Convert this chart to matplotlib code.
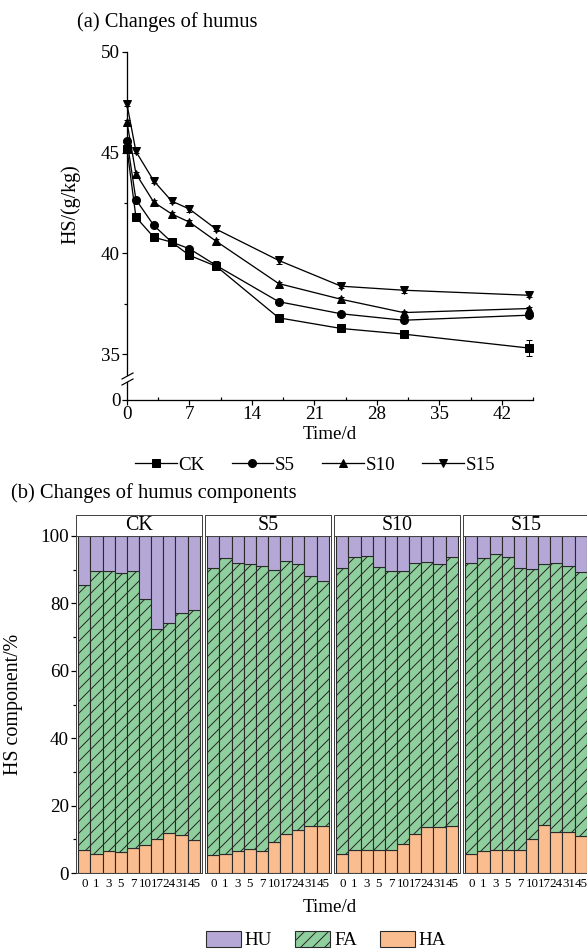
import numpy as np
import matplotlib
matplotlib.use("Agg")
import matplotlib.pyplot as plt
from matplotlib.lines import Line2D
from matplotlib.patches import Patch, Rectangle

# ---------------- data ----------------
days = [0, 1, 3, 5, 7, 10, 17, 24, 31, 45]
hs_ck = [45.2, 41.8, 40.8, 40.56, 39.9, 39.36, 36.8, 36.27, 35.99, 35.3]
hs_s5 = [45.6, 42.67, 41.39, 40.56, 40.23, 39.4, 37.6, 37.0, 36.68, 36.93]
hs_s10 = [46.5, 43.96, 42.54, 41.96, 41.55, 40.6, 38.5, 37.72, 37.06, 37.26]
hs_s15 = [47.4, 45.06, 43.6, 42.6, 42.2, 41.2, 39.65, 38.37, 38.17, 37.92]
err_ck = [0.1, 0.1, 0.1, 0.1, 0.1, 0.1, 0.1, 0.1, 0.1, 0.4]
err_s5 = [0.1, 0.1, 0.1, 0.1, 0.1, 0.2, 0.1, 0.1, 0.1, 0.1]
err_s10 = [0.1, 0.1, 0.1, 0.1, 0.1, 0.1, 0.1, 0.1, 0.1, 0.1]
err_s15 = [0.1, 0.1, 0.1, 0.1, 0.15, 0.1, 0.2, 0.1, 0.15, 0.1]

treatments = ["CK", "S5", "S10", "S15"]
# top of FA (HA + FA), %
fa_top = {
    "CK": [85.4, 89.7, 89.7, 89.1, 89.6, 81.3, 72.3, 74.2, 77.2, 78.1],
    "S5": [90.5, 93.6, 92.1, 91.6, 91.1, 89.9, 92.6, 91.6, 88.2, 86.7],
    "S10": [90.6, 93.8, 94.1, 90.9, 89.6, 89.7, 92.1, 92.4, 91.6, 93.9],
    "S15": [92.1, 93.4, 94.6, 93.9, 90.5, 90.2, 91.8, 92.1, 91.1, 89.4],
}
ha_pct = {
    "CK": [6.7, 5.6, 6.6, 6.3, 7.3, 8.4, 10.2, 12.0, 11.4, 9.8],
    "S5": [5.4, 5.5, 6.4, 7.2, 6.4, 9.3, 11.7, 12.7, 13.8, 13.8],
    "S10": [5.6, 6.7, 6.7, 6.7, 6.9, 8.6, 11.6, 13.6, 13.6, 13.8],
    "S15": [5.6, 6.4, 6.7, 6.7, 6.7, 10.1, 14.1, 12.2, 12.2, 11.1],
}
day_labels = ["0", "1", "3", "5", "7", "10", "17", "24", "31", "45"]

# ---------------- style ----------------
plt.rcParams['font.family'] = ['Liberation Serif', 'DejaVu Serif']
plt.rcParams['hatch.linewidth'] = 1.0
plt.rcParams['hatch.color'] = '#222222'

W, H = 587, 950
DPI = 72
fig = plt.figure(figsize=(W / DPI, H / DPI), dpi=DPI)

FS = 19


def rect(l, t, r, b):
    return [l / W, 1 - b / H, (r - l) / W, (b - t) / H]


def fx(x):
    return x / W


def fy(y):
    return 1 - y / H


# ---------------- panel (a) ----------------
ax_up = fig.add_axes(rect(127, 52, 533, 375))
ax_lo = fig.add_axes(rect(127, 382, 533, 400))

series = [(hs_ck, err_ck, 's', 'CK'), (hs_s5, err_s5, 'o', 'S5'),
          (hs_s10, err_s10, '^', 'S10'), (hs_s15, err_s15, 'v', 'S15')]
for vals, err, mk, lab in series:
    ax_up.errorbar(days, vals, yerr=err, color='black', marker=mk, ms=8,
                   lw=1.3, capsize=3, elinewidth=1, label=lab, clip_on=False,
                   zorder=3)

ax_up.set_xlim(0, 45.5)
ax_up.set_ylim(33.96, 50)
ax_up.set_yticks([35, 40, 45, 50])
ax_up.set_yticks([37.5, 42.5, 47.5], minor=True)
ax_up.set_xticks([])
for s in ['top', 'right', 'bottom']:
    ax_up.spines[s].set_visible(False)
ax_up.spines['left'].set_linewidth(1.3)
ax_up.tick_params(axis='y', which='major', length=5, width=1.2, labelsize=FS, pad=2)
ax_up.tick_params(axis='y', which='minor', length=3, width=1.2)
ax_up.patch.set_visible(False)
ax_up.set_ylabel("HS/(g/kg)", fontsize=FS + 1)
ax_up.yaxis.set_label_coords(-0.115, 0.53)

ax_lo.set_xlim(0, 45.5)
ax_lo.set_ylim(0, 1)
ax_lo.set_yticks([0])
ax_lo.set_xticks([0, 7, 14, 21, 28, 35, 42])
ax_lo.set_xticks([3.5, 10.5, 17.5, 24.5, 31.5, 38.5, 45.5], minor=True)
for s in ['top', 'right']:
    ax_lo.spines[s].set_visible(False)
ax_lo.spines['left'].set_linewidth(1.3)
ax_lo.spines['bottom'].set_linewidth(1.3)
ax_lo.tick_params(axis='both', which='major', length=5, width=1.2, labelsize=FS, pad=1)
ax_lo.tick_params(axis='x', which='minor', direction='in', length=3, width=1.2)
ax_lo.patch.set_visible(False)
ax_lo.set_xlabel("Time/d", fontsize=FS, labelpad=3)

# axis break marks
for yb in (376, 382):
    fig.add_artist(Line2D([fx(122), fx(133)], [fy(yb + 3), fy(yb - 3)],
                          color='black', lw=1.2, transform=fig.transFigure))

fig.text(fx(77), fy(22), "(a) Changes of humus", fontsize=FS + 1.5,
         va='center', ha='left')

handles_a = [Line2D([], [], color='black', marker=m, ms=8, lw=1.3) for _, _, m, _ in series]
fig.legend(handles_a, [s[3] for s in series], loc='center', ncol=4,
           bbox_to_anchor=(fx(315), fy(465)), frameon=False, fontsize=FS,
           handlelength=2.2, handletextpad=0.1, columnspacing=1.4)

# ---------------- panel (b) ----------------
fig.text(fx(11), fy(493), "(b) Changes of humus components", fontsize=FS + 1.5,
         va='center', ha='left')

col_hu = '#b5a8d6'
col_fa = '#8fcf9d'
col_ha = '#f9bd90'
edge = '#2a2a2a'

lefts = [76, 205, 334, 463]
pw = 126
x = np.arange(len(day_labels))
for i, (tr, l) in enumerate(zip(treatments, lefts)):
    ax = fig.add_axes(rect(l, 536, l + pw, 873))
    ha = np.array(ha_pct[tr])
    top = np.array(fa_top[tr])
    fa = top - ha
    hu = 100 - top
    ax.bar(x, ha, width=1.0, color=col_ha, edgecolor=edge, lw=1.1)
    ax.bar(x, fa, bottom=ha, width=1.0, color=col_fa, edgecolor=edge, lw=1.1,
           hatch='//')
    ax.bar(x, hu, bottom=top, width=1.0, color=col_hu, edgecolor=edge, lw=1.1)
    ax.set_xlim(-0.68, 9.68)
    ax.set_ylim(0, 100)
    ax.set_xticks(x)
    ax.set_xticklabels(day_labels, fontsize=13)
    ax.tick_params(axis='x', length=0, pad=5)
    for s in ax.spines.values():
        s.set_linewidth(1.0)
        s.set_color('#444444')
    if i == 0:
        ax.set_yticks([0, 20, 40, 60, 80, 100])
        ax.set_yticks([10, 30, 50, 70, 90], minor=True)
        ax.tick_params(axis='y', which='major', length=5, width=1.2,
                       labelsize=FS, pad=2)
        ax.tick_params(axis='y', which='minor', length=3, width=1.2)
        ax.set_ylabel("HS component/%", fontsize=FS + 1)
        ax.yaxis.set_label_coords(-0.42, 0.5)
    else:
        ax.set_yticks([])
    # strip header
    ax.add_patch(Rectangle((0, 1.0), 1.0, 21 / 337, transform=ax.transAxes,
                           facecolor='white', edgecolor='#444444', lw=1.0,
                           clip_on=False))
    ax.text(0.5, 1.0 + 10.5 / 337, tr, transform=ax.transAxes, ha='center',
            va='center', fontsize=FS + 1)

fig.text(fx(330), fy(908), "Time/d", fontsize=FS, ha='center', va='center')

handles_b = [Patch(facecolor=col_hu, edgecolor=edge, lw=1.1),
             Patch(facecolor=col_fa, edgecolor=edge, lw=1.1, hatch='//'),
             Patch(facecolor=col_ha, edgecolor=edge, lw=1.1)]
fig.legend(handles_b, ["HU", "FA", "HA"], loc='center', ncol=3,
           bbox_to_anchor=(fx(326), fy(940)), frameon=False, fontsize=FS,
           handlelength=1.85, handleheight=0.9, handletextpad=0.2,
           columnspacing=1.2)

fig.savefig("out.png", dpi=DPI)
